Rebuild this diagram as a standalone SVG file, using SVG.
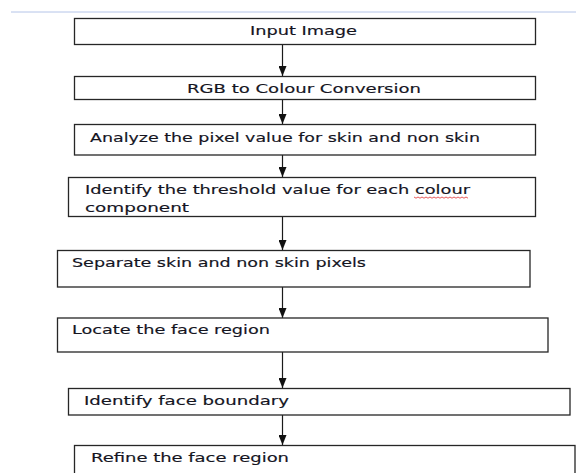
<svg xmlns="http://www.w3.org/2000/svg" width="576" height="473" viewBox="0 0 576 473">
<defs>
<style>
.box{fill:#fff;stroke:#262626;stroke-width:1.3}
.t{font-family:"DejaVu Sans","Liberation Sans",sans-serif;font-size:11.5px;fill:#15151f;stroke:#15151f;stroke-width:0.15}
.c{stroke:#1a1a1a;stroke-width:1.2;fill:none}
</style>
<marker id="ah" markerUnits="userSpaceOnUse" markerWidth="11" markerHeight="8" refX="10" refY="4" orient="auto">
<path d="M0,0 L10,4 L0,8 Z" fill="#111"/>
</marker>
</defs>
<rect width="576" height="473" fill="#fff"/>
<line x1="11" y1="12" x2="576" y2="12" stroke="#b4c4e8" stroke-width="1"/>
<g id="connectors">
<line class="c" x1="282.5" y1="44" x2="282.5" y2="76" marker-end="url(#ah)"/>
<line class="c" x1="282.5" y1="99" x2="282.5" y2="124" marker-end="url(#ah)"/>
<line class="c" x1="282.5" y1="155" x2="282.5" y2="177" marker-end="url(#ah)"/>
<line class="c" x1="282.5" y1="217" x2="282.5" y2="250" marker-end="url(#ah)"/>
<line class="c" x1="282.5" y1="287" x2="282.5" y2="318" marker-end="url(#ah)"/>
<line class="c" x1="282.5" y1="352" x2="282.5" y2="388" marker-end="url(#ah)"/>
<line class="c" x1="282.5" y1="415" x2="282.5" y2="445" marker-end="url(#ah)"/>
</g>
<g id="n1"><rect class="box" x="74.5" y="18.5" width="461" height="26"/>
<text class="t" x="250" y="35" textLength="107" lengthAdjust="spacingAndGlyphs">Input Image</text></g>
<g id="n2"><rect class="box" x="74.5" y="76.5" width="461" height="23"/>
<text class="t" x="187" y="92.7" textLength="234" lengthAdjust="spacingAndGlyphs">RGB to Colour Conversion</text></g>
<g id="n3"><rect class="box" x="74.5" y="124.5" width="461" height="30.5"/>
<text class="t" x="90" y="141.5" textLength="390" lengthAdjust="spacingAndGlyphs">Analyze the pixel value for skin and non skin</text></g>
<g id="n4"><rect class="box" x="68.5" y="177.5" width="467" height="39"/>
<text class="t" x="85" y="194" textLength="385" lengthAdjust="spacingAndGlyphs">Identify the threshold value for each colour</text>
<text class="t" x="85" y="211.5" textLength="104" lengthAdjust="spacingAndGlyphs">component</text>
<path d="M414,197 l2,1.2 l2,-1.2 l2,1.2 l2,-1.2 l2,1.2 l2,-1.2 l2,1.2 l2,-1.2 l2,1.2 l2,-1.2 l2,1.2 l2,-1.2 l2,1.2 l2,-1.2 l2,1.2 l2,-1.2 l2,1.2 l2,-1.2 l2,1.2 l2,-1.2 l2,1.2 l2,-1.2 l2,1.2 l2,-1.2 l2,1.2 l2,-1.2 l2,1.2" fill="none" stroke="#e03030" stroke-width="0.8"/></g>
<g id="n5"><rect class="box" x="57.5" y="250.5" width="472.5" height="36.5"/>
<text class="t" x="72" y="266.7" textLength="294" lengthAdjust="spacingAndGlyphs">Separate skin and non skin pixels</text></g>
<g id="n6"><rect class="box" x="57.5" y="318" width="490.5" height="34"/>
<text class="t" x="72" y="334" textLength="198" lengthAdjust="spacingAndGlyphs">Locate the face region</text></g>
<g id="n7"><rect class="box" x="68.5" y="388.5" width="501.5" height="26.5"/>
<text class="t" x="84" y="405" textLength="205" lengthAdjust="spacingAndGlyphs">Identify face boundary</text></g>
<g id="n8"><rect class="box" x="74.5" y="445.5" width="500.5" height="40"/>
<text class="t" x="91" y="461.7" textLength="198" lengthAdjust="spacingAndGlyphs">Refine the face region</text></g>
</svg>
